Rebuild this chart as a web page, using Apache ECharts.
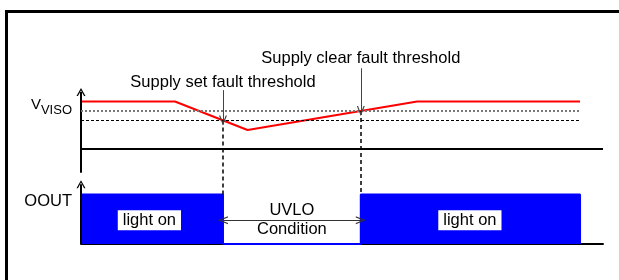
<!DOCTYPE html>
<html>
<head>
<meta charset="utf-8">
<script src="https://cdn.jsdelivr.net/npm/echarts@6/dist/echarts.min.js"></script>
<style>
  html, body { margin: 0; padding: 0; background: #fff; }
  #wrap { position: relative; width: 619px; height: 280px; overflow: hidden; }
  #frame { position: absolute; left: 5px; top: 10px; right: -10px; bottom: -10px; border-left: 3px solid #000; border-top: 3px solid #000; }
  #chart { position: absolute; left: 0; top: 0; width: 619px; height: 280px; }
</style>
</head>
<body>
<div id="wrap"><div id="frame"></div><div id="chart"></div></div>
<script>
// time runs 0..100 along x; both traces share one level scale, the VVISO trace sits 10 above OOUT
const vvisoPoints = [[0, 15], [18, 15], [31.9, 12], [64.4, 15], [95.6, 15]];
const ooutPoints = [[0, 5.2], [27.2, 5.2], [27.2, 0], [53.6, 0], [53.6, 5.2], [95.6, 5.2], [95.6, 0]];
const setThreshold = 13;
const clearThreshold = 14;
const setX = 27.2;
const clearX = 53.6;
const thresholdEndX = 95.4;
const ooutHigh = 5.2;
const upperBase = 10;
const upperAxisSpan = [7.5, 16];
const lowerAxisSpan = [0, 6.3];
const pointerTops = [16.2, 18.5];
const uvloLevel = 2.5;
const axisNames = [14.6, 4.45];
const captions = [
    [setX, 17, 'Supply set fault threshold'],
    [clearX, 19.5, 'Supply clear fault threshold'],
    [40.4, uvloLevel, 'UVLO\nCondition'],
];
const boxes = [[13.1, uvloLevel, 'light on'], [74.5, uvloLevel, 'light on']];

const FONT = 'Liberation Sans, Arial, sans-serif';
const chevron = 'path://M0,10L5,0L10,10L8.4,10L5,3L1.6,10Z';

const chart = echarts.init(document.getElementById('chart'), null, { renderer: 'canvas' });

const solid = (color, width) => ({ color: color, width: width, type: 'solid' });

chart.setOption({
    animation: false,
    grid: { left: 81, right: 16, top: 35, bottom: 36 },
    xAxis: {
        type: 'value', min: 0, max: 100,
        axisLine: { onZero: false, lineStyle: { color: '#000', width: 2 } },
        axisTick: { show: false }, axisLabel: { show: false }, splitLine: { show: false },
    },
    yAxis: {
        type: 'value', min: 0, max: 22,
        axisLine: { show: false }, axisTick: { show: false }, splitLine: { show: false },
        axisLabel: {
            customValues: axisNames,
            margin: 9,
            formatter: v => v > upperBase ? '{v|V}{s|VISO}' : '{o|OOUT}',
            rich: {
                v: { fontFamily: FONT, fontSize: 15, color: '#000' },
                s: { fontFamily: FONT, fontSize: 13, color: '#000', padding: [11, 0, 0, 0] },
                o: { fontFamily: FONT, fontSize: 16.5, color: '#000' },
            },
        },
    },
    series: [
        {
            name: 'OOUT', type: 'line', data: ooutPoints, symbol: 'none',
            lineStyle: { color: '#0000ff', width: 2 },
            areaStyle: { color: '#0000ff', opacity: 1 },
            z: 3,
        },
        {
            name: 'VVISO', type: 'line', data: vvisoPoints, symbol: 'none',
            lineStyle: { color: '#ff0000', width: 2 },
            z: 4,
            markLine: {
                silent: true, animation: false,
                symbol: ['none', 'none'],
                label: { show: false },
                data: [
                    [{ coord: [0, upperBase], lineStyle: solid('#000', 2) }, { coord: [100, upperBase] }],
                    [{ coord: [0, upperAxisSpan[0]], lineStyle: solid('#000', 2) },
                     { coord: [0, upperAxisSpan[1]], symbol: chevron, symbolSize: [9, 8] }],
                    [{ coord: [0, lowerAxisSpan[0]], lineStyle: solid('#000', 2) },
                     { coord: [0, lowerAxisSpan[1]], symbol: chevron, symbolSize: [9, 8] }],
                    [{ coord: [0, clearThreshold], lineStyle: { color: '#777', width: 2, type: [2, 2] } },
                     { coord: [thresholdEndX, clearThreshold] }],
                    [{ coord: [0, setThreshold], lineStyle: { color: '#000', width: 1, type: [3, 2] } },
                     { coord: [thresholdEndX, setThreshold] }],
                    [{ coord: [setX, setThreshold], lineStyle: { color: '#000', width: 1.5, type: [4, 3] } },
                     { coord: [setX, ooutHigh] }],
                    [{ coord: [clearX, clearThreshold], lineStyle: { color: '#000', width: 1.5, type: [4, 3] } },
                     { coord: [clearX, ooutHigh] }],
                    [{ coord: [setX, pointerTops[0]], lineStyle: solid('#444', 1) },
                     { coord: [setX, setThreshold], symbol: chevron, symbolSize: [8, 10] }],
                    [{ coord: [clearX, pointerTops[1]], lineStyle: solid('#444', 1) },
                     { coord: [clearX, clearThreshold], symbol: chevron, symbolSize: [8, 10] }],
                    [{ coord: [setX, uvloLevel], symbol: chevron, symbolSize: [8, 10], lineStyle: solid('#333', 1) },
                     { coord: [clearX, uvloLevel], symbol: chevron, symbolSize: [8, 10] }],
                ],
            },
        },
        {
            name: 'captions', type: 'scatter', data: captions, symbolSize: 0, silent: true, z: 6,
            itemStyle: { opacity: 1 },
            label: {
                show: true, position: 'inside', formatter: p => p.data[2],
                color: '#000', fontFamily: FONT, fontSize: 16.5, lineHeight: 19,
            },
        },
        {
            name: 'boxes', type: 'scatter', data: boxes, symbolSize: 0, silent: true, z: 6,
            itemStyle: { opacity: 1 },
            label: {
                show: true, position: 'inside', formatter: p => p.data[2],
                color: '#000', fontFamily: FONT, fontSize: 16.5,
                backgroundColor: '#fff', padding: [2, 5, 1, 5],
            },
        },
    ],
});
</script>
</body>
</html>
